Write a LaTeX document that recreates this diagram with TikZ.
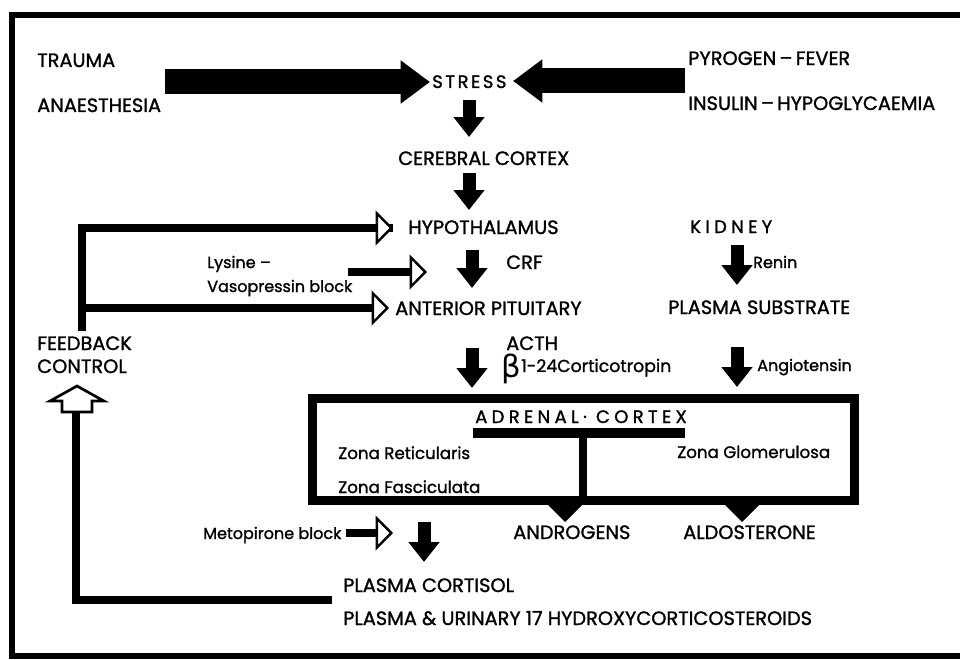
\documentclass[tikz,border=0pt]{standalone}
\usepackage{fontspec}
\setmainfont{Poppins}[FakeBold=1.3]
\newfontfamily\grk{DejaVu Sans}
\usetikzlibrary{arrows.meta}
\tikzset{
  big/.style={font=\fontsize{14.5}{16}\selectfont, inner sep=0pt, anchor=base west},
  small/.style={font=\fontsize{12}{14}\selectfont, inner sep=0pt, anchor=base west},
  spaced/.style={font=\addfontfeature{LetterSpace=24}\fontsize{13.5}{15}\selectfont, inner sep=0pt, anchor=base west},
  dn/.style={line width=9.75pt, -{Triangle[width=22.5pt,length=15pt]}},
  bigarr/.style={line width=18.75pt, -{Triangle[width=31pt,length=22pt]}},
  fb/.style={line width=6pt},
  openarr/.style={line width=5.5pt, -{Triangle[fill=white, line width=1.8pt, width=26pt, length=13pt]}},
  frame/.style={line width=4.5pt},
}
\begin{document}
\begin{tikzpicture}[x=0.75pt,y=-0.75pt]
\useasboundingbox (0,0) rectangle (960,660);
% outer frame (right side runs off the picture)
\draw[frame] (965,15) -- (12,15) -- (12,656) -- (965,656);

% texts
\node[big] (trauma) at (37,67) {TRAUMA};
\node[big] (anaes) at (37,112) {ANAESTHESIA};
\node[spaced, font=\addfontfeature{LetterSpace=14}\fontsize{13.5}{15}\selectfont] (stress) at (432,88) {STRESS};
\node[big] (pyro) at (688,65) {PYROGEN\,–\,FEVER};
\node[big] (insulin) at (688,110) {INSULIN\,–\,HYPOGLYCAEMIA};
\node[big] (cerebral) at (398,165) {CEREBRAL CORTEX};
\node[big] (hypo) at (408,234) {HYPOTHALAMUS};
\node[big] (crf) at (506,269) {CRF};
\node[big] (antpit) at (395,315) {ANTERIOR PITUITARY};
\node[big] (acth) at (506,350) {ACTH};
\node[inner sep=0pt, font=\grk\fontsize{23}{24}\selectfont] (beta) at (511,369) {β};
\node[small, font=\fontsize{13}{15}\selectfont] (cortico) at (521,372) {1-24Corticotropin};
\node[spaced] (kidney) at (690,233) {KIDNEY};
\node[small] (renin) at (753,268) {Renin};
\node[big] (plsub) at (668,314) {PLASMA SUBSTRATE};
\node[small] (angio) at (757,371) {Angiotensin};
\node[small] (lysine) at (207,268) {Lysine –};
\node[small] (vaso) at (207,292) {Vasopressin block};
\node[big] (feedback) at (37,350) {FEEDBACK};
\node[big] (control) at (37,373) {CONTROL};
\node[spaced] (adrenal) at (475,423) {ADRENAL·\ CORTEX};
\node[small, font=\fontsize{12.5}{14}\selectfont] (zr) at (338,459) {Zona Reticularis};
\node[small, font=\fontsize{12.5}{14}\selectfont] (zg) at (677,458) {Zona Glomerulosa};
\node[small, font=\fontsize{12.5}{14}\selectfont] (zf) at (338,493) {Zona Fasciculata};
\node[small] (metop) at (203,539) {Metopirone block};
\node[big] (andro) at (513,539) {ANDROGENS};
\node[big] (aldo) at (683,539) {ALDOSTERONE};
\node[big] (plcort) at (343,592) {PLASMA CORTISOL};
\node[big] (plur) at (343,625) {PLASMA \& URINARY 17 HYDROXYCORTICOSTEROIDS};

% adrenal cortex box
\node[draw, line width=6.75pt, minimum width=406.5pt, minimum height=76.5pt, inner sep=0pt] (box) at (583,449) {};
\fill (473,428) rectangle (685,438);
\coordinate (stemtop) at (583,436);
\coordinate (stembot) at (583,500);
\draw[line width=5.5pt] (stemtop) -- (stembot);
\fill (545,502) -- (585,502) -- (565,522) -- cycle;
\fill (722,502) -- (762,502) -- (742,522) -- cycle;

% big input arrows
\coordinate (lbeg) at (165,82);
\coordinate (lend) at (430,82);
\coordinate (rbeg) at (685,81);
\coordinate (rend) at (513,81);
\draw[bigarr] (lbeg) -- (lend);
\draw[bigarr] (rbeg) -- (rend);

% main down arrows
\coordinate (d1s) at (469,100); \coordinate (d1e) at (469,137);
\coordinate (d2s) at (469,173); \coordinate (d2e) at (469,210);
\coordinate (d3s) at (472,250); \coordinate (d3e) at (472,288);
\coordinate (d4s) at (472,348); \coordinate (d4e) at (472,388);
\coordinate (d5s) at (737,245); \coordinate (d5e) at (737,285);
\coordinate (d6s) at (737,347); \coordinate (d6e) at (737,387);
\coordinate (d7s) at (424,522); \coordinate (d7e) at (424,562);
\foreach \a in {1,...,7} {\draw[dn] (d\a s) -- (d\a e);}

% feedback control
\coordinate (fbtop) at (82,228);
\coordinate (fbmid) at (82,308);
\coordinate (fbbot) at (82,331);
\coordinate (hyptip) at (393,228);
\coordinate (anttip) at (389,308);
\draw[fb] (fbbot) -- (fbtop) -- (hyptip);
\draw[openarr] (fbmid) -- (anttip);
\draw[fb] (fbbot) -- (fbmid);
\coordinate (fbh1) at (78,228);
\draw[openarr] (fbh1) -- (hyptip);

\coordinate (lysbeg) at (348,272);
\coordinate (lystip) at (427,272);
\draw[openarr] (lysbeg) -- (lystip);
\coordinate (metbeg) at (346,533);
\coordinate (mettip) at (393,533);
\draw[openarr] (metbeg) -- (mettip);

\coordinate (retA) at (332,600);
\coordinate (retB) at (76,600);
\coordinate (retC) at (76,411);
\draw[fb] (retA) -- (retB) -- (retC);
\draw[line width=2pt, fill=white] (62,412) -- (62,401) -- (50,401) -- (77,386) -- (104,401) -- (92,401) -- (92,412) -- cycle;
\end{tikzpicture}
\end{document}
